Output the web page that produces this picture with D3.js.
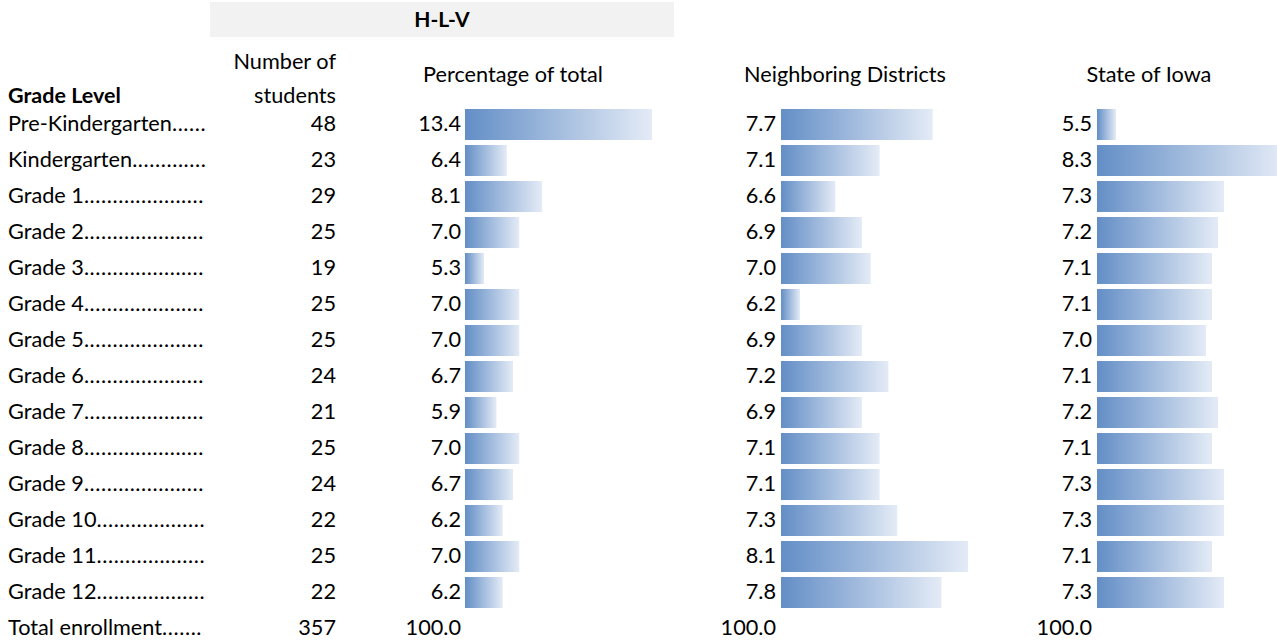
<!DOCTYPE html>
<html>
<head>
<meta charset="utf-8">
<script src="https://cdn.jsdelivr.net/npm/d3@7"></script>
<style>
body { margin: 0; background: #fff; }
svg text { font-family: Lato, "Open Sans", sans-serif; font-size: 21.7px; fill: #000; }
</style>
</head>
<body>
<div id="chart"></div>
<script>
// grade rows
var grades = ["Pre-Kindergarten", "Kindergarten", "Grade 1", "Grade 2", "Grade 3", "Grade 4",
  "Grade 5", "Grade 6", "Grade 7", "Grade 8", "Grade 9", "Grade 10", "Grade 11", "Grade 12"];
var students = [48, 23, 29, 25, 19, 25, 25, 24, 21, 25, 24, 22, 25, 22];
var hlvPct = [13.4, 6.4, 8.1, 7.0, 5.3, 7.0, 7.0, 6.7, 5.9, 7.0, 6.7, 6.2, 7.0, 6.2];
var neighborPct = [7.7, 7.1, 6.6, 6.9, 7.0, 6.2, 6.9, 7.2, 6.9, 7.1, 7.1, 7.3, 8.1, 7.8];
var iowaPct = [5.5, 8.3, 7.3, 7.2, 7.1, 7.1, 7.0, 7.1, 7.2, 7.1, 7.3, 7.3, 7.1, 7.3];
var totalLabel = "Total enrollment";
var totalStudents = 357;
var totalPct = 100.0;

var width = 1277, height = 644;
var rowPitch = 36, firstBar = 109, barH = 31;

var svg = d3.select("#chart").append("svg")
  .attr("width", width)
  .attr("height", height);

var defs = svg.append("defs");
var grad = defs.append("linearGradient")
  .attr("id", "barGrad")
  .attr("x1", "0").attr("x2", "1").attr("y1", "0").attr("y2", "0");
grad.append("stop").attr("offset", "0%").attr("stop-color", "#638ec6");
grad.append("stop").attr("offset", "100%").attr("stop-color", "#e4ebf6");

// row positions
var y = d3.scaleBand()
  .domain(d3.range(grades.length + 1))
  .range([firstBar - 2.5, firstBar - 2.5 + rowPitch * (grades.length + 1)])
  .paddingInner(0);

function baseline(i) { return y(i) + 24.5; }

// header band
svg.append("rect")
  .attr("x", 210).attr("y", 2)
  .attr("width", 464).attr("height", 35)
  .attr("fill", "#f2f2f2");

svg.append("text")
  .attr("x", 442).attr("y", 27)
  .attr("text-anchor", "middle")
  .style("font-weight", "bold")
  .style("font-size", "21px")
  .text("H-L-V");

svg.append("text")
  .attr("x", 8).attr("y", 103)
  .style("font-weight", "bold")
  .style("font-size", "21.5px")
  .text("Grade Level");

svg.append("text").attr("x", 336).attr("y", 69).attr("text-anchor", "end").text("Number of");
svg.append("text").attr("x", 336).attr("y", 103).attr("text-anchor", "end").text("students");

var columns = [
  {title: "Percentage of total", values: hlvPct, textX: 461, barX: 465, titleX: 513},
  {title: "Neighboring Districts", values: neighborPct, textX: 776, barX: 781, titleX: 845},
  {title: "State of Iowa", values: iowaPct, textX: 1092, barX: 1097, titleX: 1149}
];

// labels with dot leaders filling the cell
var labelEdge = 205;
var labelRows = grades.concat([totalLabel]);
svg.selectAll(".rowlabel")
  .data(labelRows)
  .enter().append("text")
  .attr("class", "rowlabel")
  .attr("x", 8)
  .attr("y", function(d, i) { return baseline(i); })
  .each(function(d) {
    var t = d3.select(this);
    t.append("tspan").text(d);
    var dots = t.append("tspan").style("letter-spacing", "0.6px");
    var s = "";
    while (this.getComputedTextLength() < labelEdge - 8 - 4) {
      s += ".";
      dots.text(s);
    }
  });

svg.selectAll(".count")
  .data(students.concat([totalStudents]))
  .enter().append("text")
  .attr("class", "count")
  .attr("x", 336)
  .attr("y", function(d, i) { return baseline(i); })
  .attr("text-anchor", "end")
  .text(function(d) { return d; });

columns.forEach(function(col) {
  svg.append("text")
    .attr("x", col.titleX).attr("y", 82)
    .attr("text-anchor", "middle")
    .text(col.title);

  // data bars run from min to max of the column
  var len = d3.scaleLinear()
    .domain(d3.extent(col.values))
    .range([19, 187]);

  svg.selectAll(null)
    .data(col.values)
    .enter().append("rect")
    .attr("x", col.barX)
    .attr("y", function(d, i) { return y(i) + 2.5; })
    .attr("width", function(d) { return len(d); })
    .attr("height", barH)
    .attr("fill", "url(#barGrad)");

  svg.selectAll(null)
    .data(col.values.concat([totalPct]))
    .enter().append("text")
    .attr("x", col.textX)
    .attr("y", function(d, i) { return baseline(i); })
    .attr("text-anchor", "end")
    .text(function(d) { return d3.format(".1f")(d); });
});
</script>
</body>
</html>
